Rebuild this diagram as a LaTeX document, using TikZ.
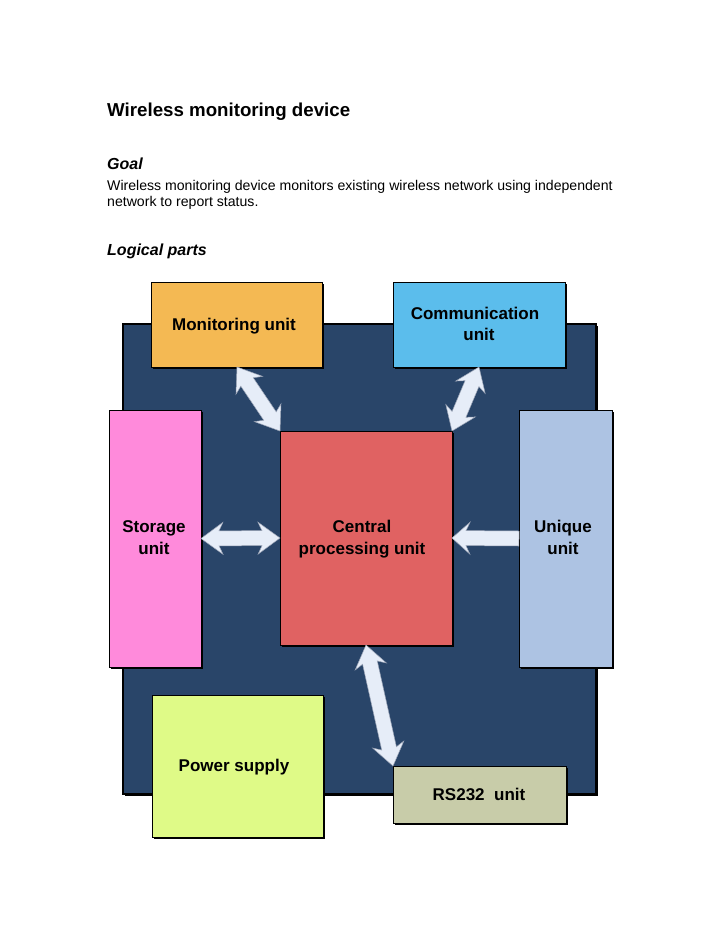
\documentclass[tikz,border=0pt]{standalone}
\usepackage{fontspec}
\setmainfont{Liberation Sans}
\usetikzlibrary{calc}
\definecolor{navy}{HTML}{294569}
\definecolor{moncol}{HTML}{F4B953}
\definecolor{comcol}{HTML}{5BBDEC}
\definecolor{stocol}{HTML}{FF8ADB}
\definecolor{cpucol}{HTML}{E06262}
\definecolor{unicol}{HTML}{ADC3E3}
\definecolor{powcol}{HTML}{DFFA87}
\definecolor{rscol}{HTML}{C8CCA9}
\definecolor{arrfill}{HTML}{E6EDF8}
\definecolor{arrline}{HTML}{9AA3B5}
\def\ah{22pt}\def\aj{18pt}\def\hw{16pt}\def\sw{7.5pt}
\def\sah{18pt}\def\saj{14pt}
\newcommand\dblarr[2]{%
  \draw[blockarrow] (#1) -- ($(#1)!\ah!(#2)!\hw!90:(#2)$) -- ($(#1)!\aj!(#2)!\sw!90:(#2)$)
    -- ($(#2)!\aj!(#1)!\sw!-90:(#1)$) -- ($(#2)!\ah!(#1)!\hw!-90:(#1)$) -- (#2)
    -- ($(#2)!\ah!(#1)!\hw!90:(#1)$) -- ($(#2)!\aj!(#1)!\sw!90:(#1)$)
    -- ($(#1)!\aj!(#2)!\sw!-90:(#2)$) -- ($(#1)!\ah!(#2)!\hw!-90:(#2)$) -- cycle;}
\newcommand\sglarr[2]{%
  \draw[blockarrow] ($(#1)!\sw!90:(#2)$) -- ($(#2)!\saj!(#1)!\sw!-90:(#1)$)
    -- ($(#2)!\sah!(#1)!\hw!-90:(#1)$) -- (#2) -- ($(#2)!\sah!(#1)!\hw!90:(#1)$)
    -- ($(#2)!\saj!(#1)!\sw!90:(#1)$) -- ($(#1)!\sw!-90:(#2)$) -- cycle;}
\begin{document}
\begin{tikzpicture}[x=1pt,y=-1pt,
  box/.style={draw=black, line width=1pt, inner sep=0pt, outer sep=0pt,
    preaction={fill=black, transform canvas={shift={(1.5pt,-1.5pt)}}}},
  lbl/.style={font=\fontsize{17}{22}\selectfont\bfseries, anchor=base, align=center, inner sep=0pt},
  blockarrow/.style={fill=arrfill, draw=arrline, line width=0.5pt, line join=miter},
  txt/.style={anchor=base west, inner sep=0pt}]
\useasboundingbox (0,0) rectangle (720,932);
\fill[white] (0,0) rectangle (720,932);
% heading texts
\node[txt, font=\fontsize{18.7}{22}\selectfont\bfseries] (title) at (107,116) {Wireless monitoring device};
\node[txt, font=\fontsize{16}{20}\selectfont\bfseries\itshape] (goal) at (107,169) {Goal};
\node[txt, font=\fontsize{14.1}{16}\selectfont] (body1) at (107,190) {Wireless monitoring device monitors existing wireless network using independent};
\node[txt, font=\fontsize{14.1}{16}\selectfont] (body2) at (107,206) {network to report status.};
\node[txt, font=\fontsize{16}{20}\selectfont\bfseries\itshape] (logic) at (107,255) {Logical parts};
% device body
\node[box, fill=navy, line width=2pt, minimum width=473pt, minimum height=470pt] (dev) at (359.5,559) {};
% units
\node[box, fill=moncol, minimum width=171pt, minimum height=85pt] (mon) at (237,324.5) {};
\node[box, fill=comcol, minimum width=172pt, minimum height=85pt] (com) at (479,324.5) {};
\node[box, fill=stocol, minimum width=92pt, minimum height=257pt] (sto) at (155,538.5) {};
\node[box, fill=unicol, minimum width=93pt, minimum height=257pt] (uni) at (565.5,538.5) {};
\node[box, fill=cpucol, minimum width=172pt, minimum height=214pt] (cpu) at (366,538) {};
\node[box, fill=powcol, minimum width=171pt, minimum height=142pt] (pow) at (237.5,766) {};
\node[box, fill=rscol, minimum width=173pt, minimum height=57pt] (rs) at (479.5,794.5) {};
% labels
\node[lbl] (monl) at (234,330) {Monitoring unit};
\node[lbl] (coml1) at (475,319) {Communication};
\node[lbl] (coml2) at (479,340) {unit};
\node[lbl] (stol1) at (154,532) {Storage};
\node[lbl] (stol2) at (154,554) {unit};
\node[lbl] (cpul1) at (362,532) {Central};
\node[lbl] (cpul2) at (362,554) {processing unit};
\node[lbl] (unil1) at (563,532) {Unique};
\node[lbl] (unil2) at (563,554) {unit};
\node[lbl] (powl) at (234,771) {Power supply};
\node[lbl] (rsl) at (479,800) {RS232\ \ unit};
% arrows
\dblarr{mon.south}{cpu.north west}
\dblarr{com.south}{cpu.north east}
\dblarr{sto.east}{cpu.west}
\sglarr{uni.west}{cpu.east}
\dblarr{cpu.south}{rs.north west}
\end{tikzpicture}
\end{document}
